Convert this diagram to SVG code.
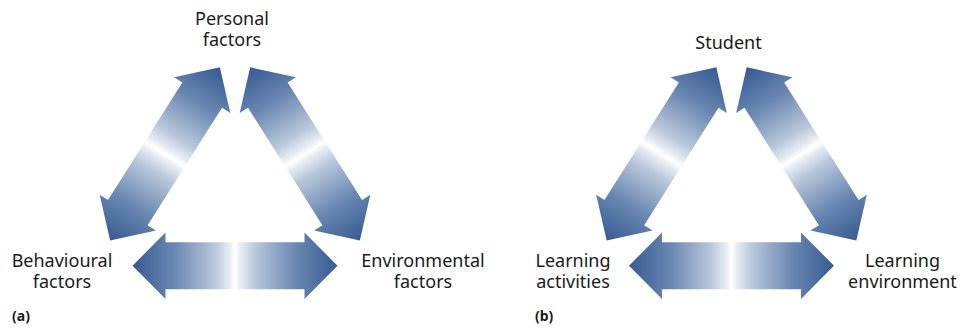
<svg xmlns="http://www.w3.org/2000/svg" width="961" height="328" viewBox="0 0 961 328">
  <defs>
    <linearGradient id="armGrad" x1="0" y1="0" x2="1" y2="0">
      <stop offset="0" stop-color="#375b91"/>
      <stop offset="0.2" stop-color="#6886b1"/>
      <stop offset="0.4" stop-color="#b9c7db"/>
      <stop offset="0.47" stop-color="#e5ebf3"/>
      <stop offset="0.5" stop-color="#ffffff"/>
      <stop offset="0.53" stop-color="#e5ebf3"/>
      <stop offset="0.6" stop-color="#b9c7db"/>
      <stop offset="0.8" stop-color="#6886b1"/>
      <stop offset="1" stop-color="#375b91"/>
    </linearGradient>
    <path id="dblArrow" d="M -102.5,0 L -69.5,-33.3 L -69.5,-23.5 L 69.5,-23.5 L 69.5,-33.3 L 102.5,0 L 69.5,33.3 L 69.5,23.5 L -69.5,23.5 L -69.5,33.3 Z"/>
  </defs>
  <style>
    .arrow { fill: url(#armGrad); }
    .lbl { font-family: "Noto Sans", "Open Sans", "Liberation Sans", sans-serif; font-size: 18px; fill: #1a1a1a; text-anchor: middle; }
    .tag { font-family: "Noto Sans", "Liberation Sans", sans-serif; font-size: 14px; font-weight: bold; fill: #1a1a1a; }
  </style>

  <g id="connectors">
    <!-- panel (a) -->
    <use href="#dblArrow" class="arrow" transform="translate(165,153.9) rotate(-57.65)"/>
    <use href="#dblArrow" class="arrow" transform="translate(305,153.9) rotate(57.65)"/>
    <use href="#dblArrow" class="arrow" transform="translate(235,265.7)"/>
    <!-- panel (b) -->
    <use href="#dblArrow" class="arrow" transform="translate(661.5,153.9) rotate(-57.65)"/>
    <use href="#dblArrow" class="arrow" transform="translate(801.5,153.9) rotate(57.65)"/>
    <use href="#dblArrow" class="arrow" transform="translate(731.5,265.7)"/>
  </g>

  <g id="node-personal">
    <text class="lbl" x="232" y="25">Personal<tspan x="232" dy="20.5">factors</tspan></text>
  </g>
  <g id="node-behavioural">
    <text class="lbl" x="62" y="266.7">Behavioural<tspan x="62" dy="21.3">factors</tspan></text>
  </g>
  <g id="node-environmental">
    <text class="lbl" x="423" y="266.7">Environmental<tspan x="423" dy="21.3">factors</tspan></text>
  </g>
  <g id="node-student">
    <text class="lbl" x="728.5" y="49.3">Student</text>
  </g>
  <g id="node-activities">
    <text class="lbl" x="573" y="266.7">Learning<tspan x="573" dy="21.3">activities</tspan></text>
  </g>
  <g id="node-environment">
    <text class="lbl" x="902.5" y="266.7">Learning<tspan x="902.5" dy="21.3">environment</tspan></text>
  </g>
  <g id="caption-a">
    <text class="tag" x="12" y="321">(a)</text>
  </g>
  <g id="caption-b">
    <text class="tag" x="535" y="321">(b)</text>
  </g>
</svg>
